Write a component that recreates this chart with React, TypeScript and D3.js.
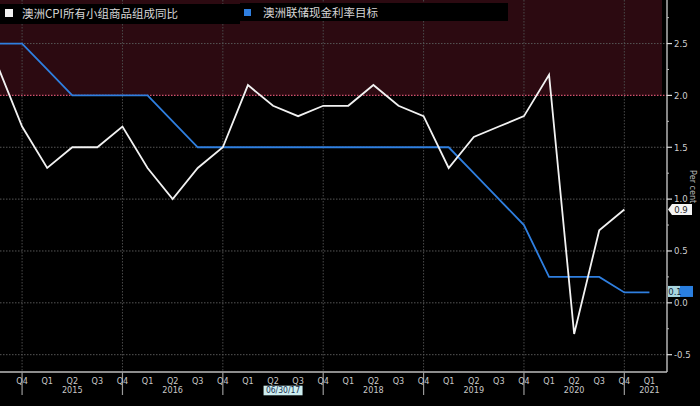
import { scaleLinear, line, range } from "d3";

const width = 700;
const height = 406;
const plotRight = 667;
const plotBottom = 372;

// quarter index 0 = Q3 2014
const quarterLabels = [
  "Q4", "Q1", "Q2", "Q3", "Q4", "Q1", "Q2", "Q3", "Q4", "Q1", "Q2", "Q3", "Q4",
  "Q1", "Q2", "Q3", "Q4", "Q1", "Q2", "Q3", "Q4", "Q1", "Q2", "Q3", "Q4", "Q1",
];
// 2017 sits under the crosshair date label, so it is not shown
const yearLabels = ["2015", "2016", "2018", "2019", "2020", "2021"];
const yearLabelIndex = [3, 7, 15, 19, 23, 26];

const cpi = [
  2.3, 1.7, 1.3, 1.5, 1.5, 1.7, 1.3, 1.0, 1.3, 1.5, 2.1, 1.9, 1.8, 1.9, 1.9,
  2.1, 1.9, 1.8, 1.3, 1.6, 1.7, 1.8, 2.2, -0.3, 0.7, 0.9,
];
const cashRate = [
  2.5, 2.5, 2.25, 2.0, 2.0, 2.0, 2.0, 1.75, 1.5, 1.5, 1.5, 1.5, 1.5, 1.5, 1.5,
  1.5, 1.5, 1.5, 1.5, 1.25, 1.0, 0.75, 0.25, 0.25, 0.25, 0.1, 0.1,
];
const yTicks = [-0.5, 0, 0.5, 1.0, 1.5, 2.0, 2.5];
const targetTop = 2.0;
const crosshairIndex = 11.4;
const crosshairLabel = "06/30/17";
const cpiName = "澳洲CPI所有小组商品组成同比";
const rateName = "澳洲联储现金利率目标";

const tickFont = "'DejaVu Sans Condensed', 'Liberation Sans Narrow', sans-serif";

export default function App() {
  const x = scaleLinear().domain([0.12, 26.7]).range([0, plotRight]);
  const y = scaleLinear().domain([-0.667, 2.92]).range([plotBottom, 0]);
  const lineBuilder = line<number>()
    .x((_, i) => x(i))
    .y((d) => y(d));

  const minorTicks = range(-0.5, 2.9, 0.25).filter(
    (v) => !yTicks.some((t) => Math.abs(t - v) < 1e-6),
  );
  const lastCpi = cpi[cpi.length - 1];
  const lastRate = cashRate[cashRate.length - 1];

  return (
    <div style={{ position: "fixed", left: 0, top: 0 }}>
      <svg width={width} height={height} viewBox={`0 0 ${width} ${height}`}>
        <rect width={width} height={height} fill="#000" />
        <rect x={0} y={0} width={662} height={y(targetTop)} fill="#2c0a11" />

        {quarterLabels.map((q, i) =>
          q === "Q4" ? (
            <line
              key={`vg${i}`}
              x1={x(i + 1)}
              x2={x(i + 1)}
              y1={0}
              y2={plotBottom}
              stroke="#4a4a4a"
              strokeDasharray="1.5 1.5"
            />
          ) : null,
        )}
        {yTicks.map((t) => (
          <line
            key={`hg${t}`}
            x1={0}
            x2={plotRight}
            y1={y(t)}
            y2={y(t)}
            stroke={t === targetTop ? "#d0506e" : "#555"}
            strokeWidth={t === targetTop ? 1.3 : 1}
            strokeDasharray="1.5 1.5"
          />
        ))}

        <path
          d={lineBuilder(cashRate) ?? ""}
          fill="none"
          stroke="#2f7fe0"
          strokeWidth={1.8}
        />
        <path
          d={lineBuilder(cpi) ?? ""}
          fill="none"
          stroke="#f2f2f2"
          strokeWidth={1.8}
        />

        {/* axes */}
        <line x1={plotRight} x2={plotRight} y1={0} y2={plotBottom} stroke="#cfcfcf" strokeWidth={1.3} />
        <line x1={0} x2={plotRight} y1={plotBottom} y2={plotBottom} stroke="#bdbdbd" strokeWidth={1.5} />

        {minorTicks.map((t) => (
          <line key={`mt${t}`} x1={plotRight} x2={plotRight + 2} y1={y(t)} y2={y(t)} stroke="#bbb" />
        ))}
        {yTicks.map((t) => (
          <g key={`yt${t}`} transform={`translate(${plotRight},${y(t)})`}>
            <line x1={0} x2={5} stroke="#ddd" strokeWidth={1.2} />
            <text x={7} dy="0.35em" fontSize={9.5} fill="#cfcfcf" fontFamily={tickFont}>
              {t.toFixed(1)}
            </text>
          </g>
        ))}
        <text
          transform={`translate(690,${y(1.12)}) rotate(90)`}
          fontSize={9}
          fill="#bbb"
          fontFamily={tickFont}
          textAnchor="middle"
        >
          Per cent
        </text>

        {/* last value labels */}
        <g transform={`translate(${plotRight + 1},${y(lastCpi)})`}>
          <path d="M0,0 L4,-5.5 L24,-5.5 L24,5.5 L4,5.5 Z" fill="#f4f4f4" />
          <text x={13} dy="0.35em" textAnchor="middle" fontSize={9.5} fill="#222" fontFamily={tickFont}>
            {lastCpi.toFixed(1)}
          </text>
        </g>
        <g transform={`translate(${plotRight + 1},${y(lastRate) - 1})`}>
          <rect x={0} y={-5.5} width={25} height={11} fill="#2a7fe0" />
          <rect x={0} y={-5.5} width={12} height={11} fill="#a9d6df" />
          <text x={7} dy="0.35em" textAnchor="middle" fontSize={9.5} fill="#0d2338" fontFamily={tickFont}>
            {lastRate.toFixed(1)}
          </text>
        </g>

        {/* x axis */}
        {quarterLabels.map((q, i) => (
          <g key={`xt${i}`} transform={`translate(${x(i + 1)},${plotBottom})`}>
            {q === "Q4" && <line y1={0} y2={23} stroke="#9a9a9a" strokeWidth={1.2} />}
            <text y={8.5} dy="0.35em" textAnchor="middle" fontSize={9} fill="#c8c8c8" fontFamily={tickFont}>
              {q}
            </text>
          </g>
        ))}
        {yearLabels.map((yr, i) => (
          <text
            key={yr}
            x={x(yearLabelIndex[i])}
            y={plotBottom + 18}
            dy="0.35em"
            textAnchor="middle"
            fontSize={9}
            fill="#c8c8c8"
            fontFamily={tickFont}
          >
            {yr}
          </text>
        ))}
        <g transform={`translate(${x(crosshairIndex)},${plotBottom + 18.5})`}>
          <rect x={-19.5} y={-4.8} width={39} height={9.6} fill="#cdeef0" />
          <text dy="0.35em" textAnchor="middle" fontSize={8.5} fill="#1a3050" fontFamily={tickFont}>
            {crosshairLabel}
          </text>
        </g>

        {/* legend */}
        <rect x={0} y={4} width={240} height={20} fill="#000" />
        <rect x={240} y={3} width={268} height={18} fill="#000" />
        <rect x={5} y={9} width={8} height={8} fill="#f2f2f2" />
        <text x={22} y={14} dy="0.35em" fontSize={11.5} fill="#d6d6d6" fontFamily="'Noto Sans CJK SC', sans-serif">
          {cpiName}
        </text>
        <rect x={244} y={9} width={7} height={7} fill="#2f7fe0" />
        <text x={263} y={13} dy="0.35em" fontSize={11.5} fill="#d6d6d6" fontFamily="'Noto Sans CJK SC', sans-serif">
          {rateName}
        </text>
      </svg>
    </div>
  );
}
